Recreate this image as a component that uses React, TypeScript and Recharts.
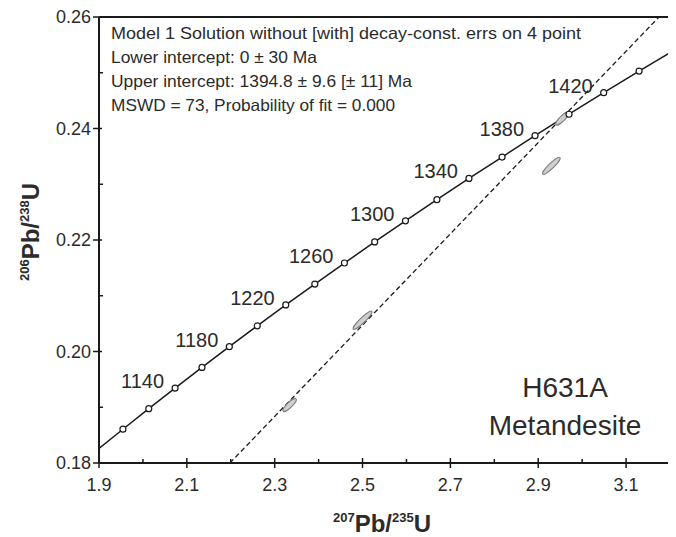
import React from 'react';
import { ComposedChart, Line, Scatter, XAxis, YAxis, ReferenceLine } from 'recharts';

// Concordia ticks every 20 Ma (207Pb/235U, 206Pb/238U)
const AGES = [1100, 1120, 1140, 1160, 1180, 1200, 1220, 1240, 1260, 1280, 1300, 1320, 1340, 1360, 1380, 1400, 1420, 1440];
const AGE_X = [1.9545, 2.0133, 2.0732, 2.1344, 2.1967, 2.2603, 2.3252, 2.3913, 2.4588, 2.5276, 2.5977, 2.6693, 2.7423, 2.8177, 2.8927, 2.9701, 3.0491, 3.1296];
const AGE_Y = [0.18606, 0.18975, 0.19344, 0.19715, 0.20087, 0.2046, 0.20835, 0.2121, 0.21587, 0.21965, 0.22344, 0.22724, 0.23105, 0.23488, 0.23871, 0.24256, 0.24642, 0.2503];
const LABELLED_AGES = [1140, 1180, 1220, 1260, 1300, 1340, 1380, 1420];

// where the concordia leaves the frame
const CURVE_END_X = [1.9, 3.2];
const CURVE_END_Y = [0.1826, 0.2536];

// discordia chord (model 1, through origin)
const CHORD_X = [2.198, 3.175];
const CHORD_Y = [0.18, 0.26];

// the 4 analyses
const SPOT_X = [2.334, 2.5, 2.93, 2.955];
const SPOT_Y = [0.1904, 0.2056, 0.2333, 0.2418];

const X_TICKS = [1.9, 2.0, 2.1, 2.2, 2.3, 2.4, 2.5, 2.6, 2.7, 2.8, 2.9, 3.0, 3.1, 3.2];
const X_LABELS = ['1.9', '2.1', '2.3', '2.5', '2.7', '2.9', '3.1'];
const Y_TICKS = [0.18, 0.19, 0.2, 0.21, 0.22, 0.23, 0.24, 0.25, 0.26];
const Y_LABELS = ['0.18', '0.20', '0.22', '0.24', '0.26'];

const INFO_LINES = [
  'Model 1 Solution without [with] decay-const. errs on 4 point',
  'Lower intercept: 0 ± 30 Ma',
  'Upper intercept: 1394.8 ± 9.6 [± 11] Ma',
  'MSWD = 73, Probability of fit = 0.000',
];
const INFO_WIDTHS = [470, 206, 301, 284]; // px, as measured on the reference

const INK = '#1a1a1a';
const TEXT = '#2b2b2b';
const FONT = "'Liberation Sans', Arial, sans-serif";
const NARROW = "'Liberation Sans Narrow', 'Liberation Sans', Arial, sans-serif";
const ELLIPSE_RX = [9, 13, 12, 9];

const curveData = [
  { x: CURVE_END_X[0], y: CURVE_END_Y[0] },
  ...AGES.map((age, i) => ({ x: AGE_X[i], y: AGE_Y[i], age })),
  { x: CURVE_END_X[1], y: CURVE_END_Y[1] },
];
const labelData = AGES.map((age, i) => ({ x: AGE_X[i], y: AGE_Y[i], age })).filter((d) =>
  LABELLED_AGES.includes(d.age)
);
const chordData = CHORD_X.map((x, i) => ({ x, y: CHORD_Y[i] }));
const spotData = SPOT_X.map((x, i) => ({ x, y: SPOT_Y[i], i }));

const fmtX = (v: number) => v.toFixed(1);
const fmtY = (v: number) => v.toFixed(2);

const XTick = (props: any) => {
  const { x, y, payload } = props;
  const label = fmtX(payload.value);
  const major = X_LABELS.includes(label);
  return (
    <g>
      <line x1={x} x2={x} y1={major ? y - 5 : y - 4} y2={major ? y + 5 : y} stroke={INK} strokeWidth={1.5} />
      {major && (
        <text x={x} y={y + 28} textAnchor="middle" fontSize={18} fontFamily={NARROW} fill={TEXT}>
          {label}
        </text>
      )}
    </g>
  );
};

const YTick = (props: any) => {
  const { x, y, payload } = props;
  const label = fmtY(payload.value);
  const major = Y_LABELS.includes(label);
  return (
    <g>
      <line x1={major ? x - 6 : x} x2={major ? x + 3 : x + 4} y1={y} y2={y} stroke={INK} strokeWidth={1.5} />
      {major && (
        <text x={x - 8} y={y + 6} textAnchor="end" fontSize={18} fontFamily={NARROW} fill={TEXT}>
          {label}
        </text>
      )}
    </g>
  );
};

const AgeDot = (props: any) => {
  const { cx, cy, payload } = props;
  if (payload.age === undefined) return <g />;
  return <circle cx={cx} cy={cy} r={3} fill="#fff" stroke={INK} strokeWidth={1.2} />;
};

const AgeLabel = (props: any) => {
  const { cx, cy, payload } = props;
  return (
    <text x={cx - 11} y={cy} textAnchor="end" fontSize={20} fontFamily={NARROW} fill={TEXT}>
      {payload.age}
    </text>
  );
};

const SpotEllipse = (props: any) => {
  const { cx, cy, payload } = props;
  return (
    <ellipse
      cx={cx}
      cy={cy}
      rx={ELLIPSE_RX[payload.i]}
      ry={2.6}
      transform={`rotate(-44 ${cx} ${cy})`}
      fill="#cfcfcf"
      stroke="#7a7a7a"
      strokeWidth={1}
    />
  );
};

export default function App() {
  return (
    <ComposedChart width={668} height={529} margin={{ top: 9, right: 6, bottom: 0, left: 0 }}>
      <XAxis
        type="number"
        dataKey="x"
        domain={[1.9, 3.2]}
        ticks={X_TICKS}
        interval={0}
        allowDataOverflow
        axisLine={{ stroke: INK, strokeWidth: 2 }}
        tickLine={false}
        tickSize={0}
        tickMargin={0}
        tick={<XTick />}
        height={74}
      />
      <YAxis
        type="number"
        dataKey="y"
        domain={[0.18, 0.26]}
        ticks={Y_TICKS}
        interval={0}
        allowDataOverflow
        axisLine={{ stroke: INK, strokeWidth: 2 }}
        tickLine={false}
        tickSize={0}
        tickMargin={0}
        tick={<YTick />}
        width={91}
      />
      <ReferenceLine y={0.26} stroke={INK} strokeWidth={2} />
      <ReferenceLine x={3.2} stroke={INK} strokeWidth={2} />
      <Line
        data={chordData}
        dataKey="y"
        type="linear"
        stroke={INK}
        strokeWidth={1.3}
        strokeDasharray="5 3"
        dot={false}
        isAnimationActive={false}
      />
      <Scatter data={spotData} dataKey="y" shape={<SpotEllipse />} isAnimationActive={false} />
      <Line
        data={curveData}
        dataKey="y"
        type="linear"
        stroke={INK}
        strokeWidth={1.5}
        dot={<AgeDot />}
        activeDot={false}
        isAnimationActive={false}
      />
      <Scatter data={labelData} dataKey="y" shape={<AgeLabel />} isAnimationActive={false} />

      <g fontFamily={FONT} fill={TEXT}>
        {INFO_LINES.map((line, i) => (
          <text key={i} x={103} y={31 + i * 24} fontSize={16.5} textLength={INFO_WIDTHS[i]} lengthAdjust="spacingAndGlyphs">
            {line}
          </text>
        ))}
        <text x={557} y={389} textAnchor="middle" fontSize={28}>H631A</text>
        <text x={557} y={427} textAnchor="middle" fontSize={28}>Metandesite</text>
      </g>

      <text transform="translate(31, 224) rotate(-90)" textAnchor="middle" fontFamily={FONT} fontWeight="bold" fill={TEXT}>
        <tspan fontSize={13} dy={-10}>206</tspan>
        <tspan fontSize={24} dy={10}>Pb/</tspan>
        <tspan fontSize={13} dy={-10}>238</tspan>
        <tspan fontSize={24} dy={10}>U</tspan>
      </text>
      <text x={374} y={524} textAnchor="middle" fontFamily={FONT} fontWeight="bold" fill={TEXT}>
        <tspan fontSize={13} dy={-10}>207</tspan>
        <tspan fontSize={24} dy={10}>Pb/</tspan>
        <tspan fontSize={13} dy={-10}>235</tspan>
        <tspan fontSize={24} dy={10}>U</tspan>
      </text>
    </ComposedChart>
  );
}
